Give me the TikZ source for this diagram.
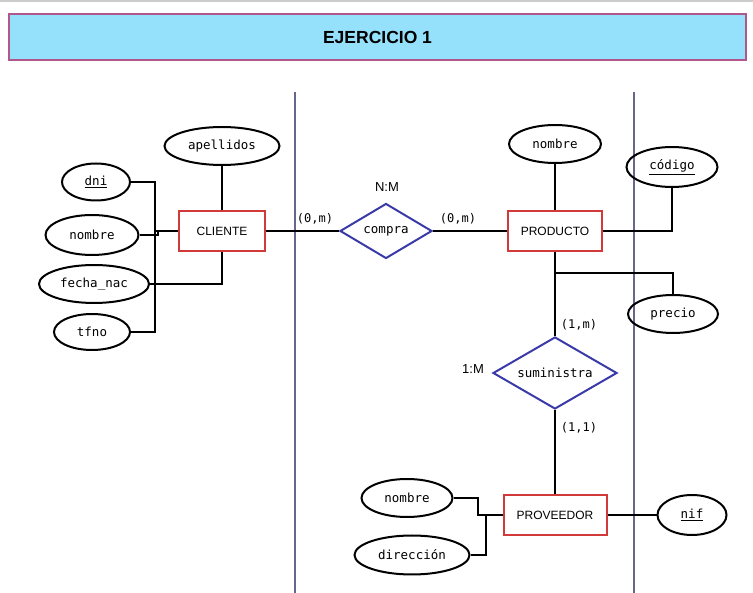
\documentclass[tikz,border=0pt]{standalone}
\usepackage{fontspec}
\setmainfont{Liberation Sans}
\newfontfamily\attrfont{DejaVu Sans Mono}
\usetikzlibrary{shapes.geometric}

\definecolor{titlefill}{HTML}{95E1FB}
\definecolor{titledraw}{HTML}{B0588C}
\definecolor{entitydraw}{HTML}{D23A3A}
\definecolor{reldraw}{HTML}{3A3AA8}
\definecolor{divcolor}{HTML}{66668E}

\begin{document}
\begin{tikzpicture}[
  x=1pt, y=-1pt,
  title/.style={draw=titledraw, line width=1.5pt, fill=titlefill, minimum width=737pt, minimum height=46pt, inner sep=0, font=\fontsize{17.5}{20}\selectfont\bfseries},
  entity/.style={draw=entitydraw, line width=2pt, minimum height=40pt, inner sep=0, font=\fontsize{12}{14}\selectfont},
  relation/.style={draw=reldraw, line width=2pt, shape=diamond, aspect=2, inner sep=0, font=\attrfont\fontsize{12.5}{14}\selectfont},
  attribute/.style={draw, line width=2pt, shape=ellipse, inner sep=0, minimum height=38pt, font=\attrfont\fontsize{12.5}{14}\selectfont},
  card/.style={inner sep=0, font=\attrfont\fontsize{12}{13}\selectfont},
  ratio/.style={inner sep=0, font=\fontsize{13}{15}\selectfont},
  link/.style={line width=2.2pt},
  divider/.style={draw=divcolor, line width=1.4pt}]

  \useasboundingbox (0,0) rectangle (753,593);
  \draw[black!20, line width=1.5pt] (0,1) -- (753,1);

  % Title
  \node[title] (title) at (377.5,37) {EJERCICIO 1};

  % Dividers
  \coordinate (divAtop) at (295,92);
  \coordinate (divAbot) at (295,593);
  \coordinate (divBtop) at (634,92);
  \coordinate (divBbot) at (634,593);
  \draw[divider] (divAtop) -- (divAbot);
  \draw[divider] (divBtop) -- (divBbot);

  % CLIENTE and its attributes
  \node[entity, minimum width=86pt] (cliente) at (222,231) {CLIENTE};
  \node[attribute, minimum width=115pt] (apellidos) at (222,146) {apellidos};
  \node[attribute, minimum width=68pt, minimum height=37pt] (dni) at (96,182) {\underline{dni}};
  \node[attribute, minimum width=93pt, minimum height=40pt] (nombre) at (92,235) {nombre};
  \node[attribute, minimum width=110pt] (fechanac) at (94,284) {fecha\_nac};
  \node[attribute, minimum width=76pt, minimum height=36pt] (tfno) at (92,332) {tfno};

  \coordinate (clibus) at (155,231);
  \coordinate (clistep) at (158,231);
  \draw[link] (dni.east) -| (clibus) |- (tfno.east);
  \draw[link] (clibus) -- (cliente.west);
  \draw[link] (nombre.east) -| (clistep);
  \draw[link] (apellidos.south) -- (cliente.north);
  \draw[link] (fechanac.east) -| (cliente.south);

  % compra
  \node[relation, minimum width=92pt, minimum height=55pt] (compra) at (386,231) {compra};
  \node[ratio] (compraratio) at (387,187) {N:M};
  \node[card] (cardcli) at (315,219) {(0,m)};
  \node[card] (cardprod) at (458,219) {(0,m)};
  \draw[link] (cliente.east) -- (compra.west);

  % PRODUCTO and its attributes
  \node[entity, minimum width=94pt] (producto) at (555,231) {PRODUCTO};
  \node[attribute, minimum width=92pt] (pnombre) at (555,144) {nombre};
  \node[attribute, minimum width=91pt, minimum height=40pt] (codigo) at (672,167) {\underline{código}};
  \node[attribute, minimum width=90pt] (precio) at (673,314) {precio};
  \draw[link] (compra.east) -- (producto.west);
  \draw[link] (pnombre.south) -- (producto.north);
  \draw[link] (producto.east) -| (codigo.south);

  \coordinate (prodbranch) at (555,273);
  \draw[link] (prodbranch) -| (precio.north);

  % suministra
  \node[relation, minimum width=124pt, minimum height=72pt] (suministra) at (555,373) {suministra};
  \node[ratio] (sumratio) at (473,369) {1:M};
  \node[card] (cardsumtop) at (579,325) {(1,m)};
  \node[card] (cardsumbot) at (579,428) {(1,1)};
  \draw[link] (producto.south) -- (suministra.north);

  % PROVEEDOR and its attributes
  \node[entity, minimum width=103pt] (proveedor) at (555,515) {PROVEEDOR};
  \node[attribute, minimum width=91pt] (vnombre) at (407,498) {nombre};
  \node[attribute, minimum width=115pt, minimum height=39pt] (direccion) at (412,555) {dirección};
  \node[attribute, minimum width=69pt, minimum height=40pt] (nif) at (692,515) {\underline{nif}};
  \draw[link] (suministra.south) -- (proveedor.north);

  \coordinate (provstep) at (478,515);
  \coordinate (provbus) at (486,515);
  \draw[link] (vnombre.east) -| (provstep) -- (proveedor.west);
  \draw[link] (direccion.east) -| (provbus);
  \draw[link] (proveedor.east) -- (nif.west);

\end{tikzpicture}
\end{document}
